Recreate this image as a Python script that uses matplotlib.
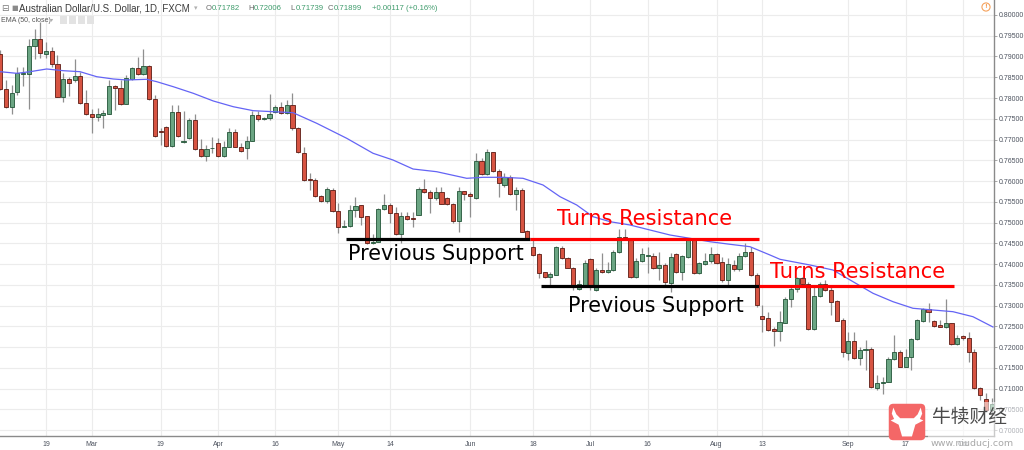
import numpy as np
import pandas as pd
import matplotlib
matplotlib.use('Agg')
import matplotlib.pyplot as plt
from matplotlib.patches import FancyBboxPatch, Polygon, Rectangle

W, H = 1024, 450

# AUD/USD daily bars (FXCM)
dates = pd.bdate_range('2018-02-07', periods=174)

opens = [0.79061, 0.78220, 0.77795, 0.78156, 0.78580, 0.78580, 0.79253, 0.79421, 0.79053, 0.79133,
         0.78821, 0.78036, 0.78460, 0.78436, 0.78532, 0.77883, 0.77619, 0.77539, 0.77579, 0.77619,
         0.78292, 0.78236, 0.77867, 0.78452, 0.78716, 0.78580, 0.78772, 0.77971, 0.77195, 0.77299,
         0.76834, 0.77659, 0.76938, 0.77034, 0.77475, 0.76778, 0.76594, 0.76786, 0.76914, 0.76594,
         0.76818, 0.77171, 0.76818, 0.76794, 0.76970, 0.77595, 0.77494, 0.77510, 0.77671, 0.77775,
         0.77631, 0.77832, 0.77285, 0.76683, 0.76048, 0.76024, 0.75639, 0.75526, 0.75784, 0.75277,
         0.74900, 0.74916, 0.75301, 0.75422, 0.75157, 0.74498, 0.74538, 0.75318, 0.75414, 0.75237,
         0.74723, 0.75157, 0.75101, 0.75189, 0.75800, 0.75735, 0.75599, 0.75735, 0.75599, 0.75438,
         0.75045, 0.75759, 0.75679, 0.75583, 0.76482, 0.76161, 0.76691, 0.76241, 0.75896, 0.76089,
         0.75687, 0.75783, 0.74795, 0.74418, 0.74241, 0.73799, 0.73679, 0.73743, 0.74394, 0.74137,
         0.73912, 0.73398, 0.73478, 0.74113, 0.73374, 0.73864, 0.73815, 0.73856, 0.74297, 0.74659,
         0.74603, 0.73679, 0.74080, 0.74193, 0.74201, 0.73896, 0.73976, 0.73550, 0.74233, 0.73815,
         0.74177, 0.74578, 0.73775, 0.74000, 0.74072, 0.74241, 0.74056, 0.73615, 0.73976, 0.73872,
         0.74201, 0.74281, 0.73735, 0.72747, 0.72691, 0.72433, 0.72385, 0.72586, 0.73148, 0.73389,
         0.73654, 0.73510, 0.72433, 0.73237, 0.73510, 0.73373, 0.73108, 0.72650, 0.71847, 0.72144,
         0.71727, 0.71919, 0.71952, 0.71004, 0.71140, 0.71164, 0.71703, 0.71887, 0.71526, 0.71767,
         0.72184, 0.72634, 0.72915, 0.72626, 0.72522, 0.72490, 0.72570, 0.72064, 0.72265, 0.72209,
         0.71887, 0.71004, 0.70739, 0.70482]

highs = [0.79157, 0.78436, 0.78316, 0.78756, 0.78756, 0.79421, 0.79662, 0.79838, 0.79357, 0.79237,
         0.79037, 0.78596, 0.78516, 0.78933, 0.78636, 0.78196, 0.77739, 0.77755, 0.77715, 0.78436,
         0.78316, 0.78436, 0.78556, 0.78756, 0.78997, 0.79173, 0.78796, 0.78076, 0.77274, 0.77315,
         0.77835, 0.77835, 0.77675, 0.77515, 0.77611, 0.77018, 0.76874, 0.77050, 0.77034, 0.76954,
         0.77274, 0.77258, 0.76914, 0.77074, 0.77675, 0.77675, 0.77550, 0.78097, 0.77832, 0.77912,
         0.77952, 0.78129, 0.77310, 0.76828, 0.76201, 0.76065, 0.75663, 0.75848, 0.75824, 0.75462,
         0.75061, 0.75422, 0.75607, 0.75430, 0.75165, 0.74723, 0.75342, 0.75679, 0.75462, 0.75366,
         0.75261, 0.75261, 0.75261, 0.75864, 0.76040, 0.75784, 0.75864, 0.75864, 0.75623, 0.75462,
         0.75864, 0.75767, 0.75743, 0.76667, 0.76547, 0.76763, 0.76707, 0.76281, 0.76185, 0.76145,
         0.75864, 0.75823, 0.74819, 0.74578, 0.74257, 0.73815, 0.73815, 0.74434, 0.74434, 0.74177,
         0.73936, 0.73615, 0.74096, 0.74137, 0.73896, 0.74257, 0.74056, 0.74337, 0.74835, 0.74835,
         0.74619, 0.74137, 0.74378, 0.74418, 0.74257, 0.74297, 0.74016, 0.74257, 0.74257, 0.74217,
         0.74619, 0.74619, 0.74056, 0.74257, 0.74418, 0.74273, 0.74177, 0.74137, 0.74096, 0.74257,
         0.74498, 0.74418, 0.73775, 0.73012, 0.72851, 0.72490, 0.72867, 0.73213, 0.73453, 0.73694,
         0.73694, 0.73574, 0.73494, 0.73574, 0.73614, 0.73453, 0.73132, 0.72691, 0.72369, 0.72369,
         0.72008, 0.72168, 0.72008, 0.71325, 0.71285, 0.71767, 0.72289, 0.71927, 0.71944, 0.72209,
         0.72666, 0.72931, 0.73052, 0.72650, 0.72650, 0.73156, 0.72586, 0.72289, 0.72289, 0.72369,
         0.71952, 0.71044, 0.70900, 0.70780]

lows = [0.78196, 0.77771, 0.77611, 0.78076, 0.78292, 0.77739, 0.78933, 0.78957, 0.78957, 0.78756,
        0.78020, 0.77915, 0.78060, 0.78396, 0.77851, 0.77595, 0.77155, 0.77435, 0.77274, 0.77611,
        0.77715, 0.77835, 0.77851, 0.78436, 0.78556, 0.78556, 0.77955, 0.77060, 0.76874, 0.76826,
        0.76826, 0.77050, 0.76914, 0.77018, 0.76754, 0.76570, 0.76474, 0.76674, 0.76580, 0.76570,
        0.76810, 0.76810, 0.76698, 0.76538, 0.76954, 0.77435, 0.77470, 0.77470, 0.77631, 0.77615,
        0.77615, 0.77229, 0.76667, 0.76008, 0.75784, 0.75623, 0.75502, 0.75462, 0.75261, 0.74739,
        0.74884, 0.74900, 0.75141, 0.74940, 0.74482, 0.74482, 0.74530, 0.75301, 0.74980, 0.74699,
        0.74498, 0.75061, 0.74884, 0.75173, 0.75719, 0.75237, 0.75543, 0.75446, 0.75422, 0.74997,
        0.74779, 0.75543, 0.75141, 0.75575, 0.76145, 0.76145, 0.76225, 0.75623, 0.75864, 0.75663,
        0.75301, 0.74763, 0.74578, 0.74200, 0.73655, 0.73655, 0.73470, 0.73735, 0.74121, 0.73896,
        0.73374, 0.73374, 0.73454, 0.73374, 0.73360, 0.73791, 0.73775, 0.73840, 0.74257, 0.74578,
        0.73655, 0.73655, 0.74056, 0.73775, 0.73872, 0.73615, 0.73454, 0.73333, 0.73791, 0.73615,
        0.74137, 0.73759, 0.73759, 0.73976, 0.74032, 0.74000, 0.73574, 0.73494, 0.73840, 0.73840,
        0.74177, 0.73711, 0.72972, 0.72369, 0.72393, 0.72024, 0.72144, 0.72570, 0.72972, 0.73333,
        0.73453, 0.72409, 0.72409, 0.73213, 0.73357, 0.72771, 0.72626, 0.71767, 0.71686, 0.71711,
        0.71566, 0.71446, 0.71020, 0.70964, 0.70867, 0.71148, 0.71686, 0.71510, 0.71510, 0.71446,
        0.72168, 0.72610, 0.72610, 0.72490, 0.72474, 0.72449, 0.72048, 0.72048, 0.72168, 0.71646,
        0.70980, 0.70723, 0.70450, 0.70400]

closes = [0.78220, 0.77795, 0.78132, 0.78596, 0.78596, 0.79253, 0.79421, 0.79077, 0.79133, 0.78821,
          0.78036, 0.78460, 0.78372, 0.78532, 0.77875, 0.77611, 0.77539, 0.77619, 0.77643, 0.78292,
          0.78236, 0.77867, 0.78476, 0.78716, 0.78580, 0.78772, 0.77971, 0.77074, 0.77171, 0.76834,
          0.77659, 0.77074, 0.76970, 0.77475, 0.76778, 0.76594, 0.76778, 0.76802, 0.76594, 0.76818,
          0.77171, 0.76818, 0.76714, 0.76970, 0.77595, 0.77499, 0.77510, 0.77607, 0.77775, 0.77631,
          0.77832, 0.77269, 0.76691, 0.76024, 0.76016, 0.75639, 0.75526, 0.75808, 0.75277, 0.74900,
          0.74924, 0.75301, 0.75398, 0.75141, 0.74498, 0.74538, 0.75318, 0.75414, 0.75237, 0.74723,
          0.75157, 0.75093, 0.75077, 0.75800, 0.75735, 0.75599, 0.75735, 0.75454, 0.75438, 0.75045,
          0.75759, 0.75679, 0.75639, 0.76482, 0.76161, 0.76691, 0.76241, 0.75944, 0.76089, 0.75679,
          0.75784, 0.74779, 0.74619, 0.74217, 0.73791, 0.73679, 0.73759, 0.74402, 0.74137, 0.73912,
          0.73454, 0.73510, 0.74016, 0.73478, 0.73856, 0.73815, 0.73864, 0.74281, 0.74659, 0.74603,
          0.73679, 0.74080, 0.74233, 0.74217, 0.73896, 0.73976, 0.73558, 0.74177, 0.73815, 0.74193,
          0.74578, 0.73775, 0.74016, 0.74072, 0.74241, 0.74032, 0.73615, 0.73992, 0.73872, 0.74201,
          0.74281, 0.73735, 0.73012, 0.72683, 0.72409, 0.72385, 0.72610, 0.73148, 0.73389, 0.73654,
          0.73510, 0.72433, 0.73237, 0.73510, 0.73373, 0.73092, 0.72634, 0.71887, 0.72144, 0.71727,
          0.71927, 0.71960, 0.71028, 0.71140, 0.71164, 0.71711, 0.71887, 0.71526, 0.71767, 0.72192,
          0.72650, 0.72915, 0.72851, 0.72514, 0.72490, 0.72570, 0.72064, 0.72225, 0.72209, 0.71887,
          0.71004, 0.70843, 0.70482, 0.70620]

# EMA(50) line, read at points along the curve (position in bars, price)
ema_pos = [0, 2.89, 5.21, 8.12, 11.02, 13.93, 16.85, 19.74, 22.08, 25.57, 27.32, 30.21, 33.70,
           37.19, 40.68, 44.17, 51.10, 55.24, 60.47, 65.06, 68.55, 72.04, 76.17, 81.41, 84.25,
           87.74, 91.23, 94.72, 97.69, 100.60, 103.45, 106.41, 109.90, 113.39, 116.88, 120.37,
           123.86, 127.35, 130.84, 134.33, 136.08, 141.31, 145.33, 148.82, 152.31, 155.79,
           159.28, 162.77, 166.26, 169.75, 173.24]
ema_val = [0.78634, 0.78595, 0.78634, 0.78699, 0.78658, 0.78634, 0.78513, 0.78458, 0.78434,
           0.78451, 0.78393, 0.78272, 0.78113, 0.77928, 0.77790, 0.77694, 0.77646, 0.77390,
           0.77029, 0.76668, 0.76506, 0.76289, 0.76224, 0.76065, 0.76089, 0.76089, 0.76065,
           0.75904, 0.75622, 0.75422, 0.75140, 0.75020, 0.74940, 0.74819, 0.74699, 0.74619,
           0.74537, 0.74475, 0.74417, 0.74217, 0.74113, 0.73976, 0.73855, 0.73574, 0.73294,
           0.73092, 0.72933, 0.72892, 0.72851, 0.72730, 0.72482]

tick_dates = ['2018-02-19', '2018-03-01', '2018-03-19', '2018-04-02', '2018-04-16', '2018-05-01',
              '2018-05-14', '2018-06-01', '2018-06-18', '2018-07-02', '2018-07-16', '2018-08-01',
              '2018-08-13', '2018-09-03', '2018-09-17', '2018-10-01']
tick_labels = ['19', 'Mar', '19', 'Apr', '16', 'May', '14', 'Jun', '18', 'Jul', '16', 'Aug',
               '13', 'Sep', '17', 'Oct']
price_ticks = np.round(np.arange(0.700, 0.8001, 0.005), 3)

# levels drawn on the chart: (price, from, to)
support_lines = [(0.7461, '2018-05-02', '2018-06-15'), (0.7347, '2018-06-19', '2018-08-10')]
resist_lines = [(0.7461, '2018-06-15', '2018-08-10'), (0.7347, '2018-08-10', '2018-09-27')]

header_title = 'Australian Dollar/U.S. Dollar, 1D, FXCM'
header_ohlc = [('O', '0.71782'), ('H', '0.72006'), ('L', '0.71739'), ('C', '0.71899')]
header_change = '+0.00117 (+0.16%)'

plt.rcParams['font.family'] = ['DejaVu Sans']
small_font = ['Liberation Sans', 'DejaVu Sans']

pos = {d.strftime('%Y-%m-%d'): i for i, d in enumerate(dates)}
x = np.arange(len(dates))
o, h, l, c = (np.array(v) for v in (opens, highs, lows, closes))
up = c >= o

fig = plt.figure(figsize=(W / 100, H / 100), dpi=100)
ax = fig.add_axes([0, 14 / H, 994 / W, 436 / H])

# wicks and bodies
ax.vlines(x, l, h, color='#8f8f8f', lw=0.9, zorder=2)
body_lo = np.minimum(o, c)
body_h = np.maximum(np.abs(c - o), 0.00005)
ax.bar(x[up], body_h[up], bottom=body_lo[up], width=0.72, color='#6ba583',
       edgecolor='#225437', lw=0.6, zorder=3)
ax.bar(x[~up], body_h[~up], bottom=body_lo[~up], width=0.72, color='#d75442',
       edgecolor='#5b1a13', lw=0.6, zorder=3)

ax.plot(ema_pos, ema_val, color='#6464f5', lw=0.9, zorder=4)

for lev, a, b in support_lines:
    ax.hlines(lev, pos[a] + 0.4, pos[b] + 0.4, color='black', lw=2.3, zorder=5)
for lev, a, b in resist_lines:
    ax.hlines(lev, pos[a] + 0.4, pos[b] + 0.4, color='#ff0000', lw=2.3, zorder=5)

ax.text(60.7, 0.74241, 'Previous Support', fontsize=14.9, color='black', va='center', zorder=6)
ax.text(99.1, 0.72988, 'Previous Support', fontsize=14.9, color='black', va='center', zorder=6)
ax.text(97.2, 0.75084, 'Turns Resistance', fontsize=15.1, color='#ff0000', va='center', zorder=6)
ax.text(134.3, 0.73807, 'Turns Resistance', fontsize=15.1, color='#ff0000', va='center', zorder=6)

ax.set_xlim(-0.03, 173.42)
ax.set_ylim(0.698556, 0.803614)
ax.set_xticks([pos[d] for d in tick_dates])
ax.set_xticklabels(tick_labels, family=small_font)
ax.set_yticks(price_ticks)
ax.set_yticklabels([f'{v:.5f}' for v in price_ticks], family=small_font)
ax.yaxis.tick_right()
ax.tick_params(axis='y', length=2, width=0.6, color='#9a9a9a', labelsize=5.0,
               labelcolor='#4c525e', pad=1.2)
ax.tick_params(axis='x', length=0, labelsize=5.0, labelcolor='#4c525e', pad=3.5)
ax.grid(True, color='#ececec', lw=0.8, zorder=0)
ax.set_axisbelow(True)
for s in ['top', 'left']:
    ax.spines[s].set_visible(False)
for s in ['bottom', 'right']:
    ax.spines[s].set_color('#8a8a8a')
    ax.spines[s].set_linewidth(1.0)


def fx(px):
    return px / W


def fy(py):
    return 1 - py / H


# header
fig.text(fx(1), fy(8.3), '\u229f', color='#7a7a7a', fontsize=6.5, va='center')
fig.text(fx(11), fy(8.3), '\u25a0', color='#8a8a8a', fontsize=5.0, va='center')
fig.text(fx(19), fy(8.3), header_title, color='#3c3c3c', fontsize=7.0, va='center',
         family=small_font)
fig.text(fx(194), fy(8.0), '\u25be', color='#b0b0b0', fontsize=5, va='center')
for (k, v), xp in zip(header_ohlc, [206, 248, 290, 328]):
    fig.text(fx(xp), fy(8.3), k, color='#6a6a6a', fontsize=5.6, va='center', family=small_font)
    fig.text(fx(xp + 6), fy(8.3), v, color='#3f9c6c', fontsize=5.6, va='center', family=small_font)
fig.text(fx(372), fy(8.3), header_change, color='#3f9c6c', fontsize=5.6, va='center',
         family=small_font)

fig.text(fx(1), fy(20), 'EMA (50, close)', color='#555555', fontsize=5.0, va='center',
         family=small_font)
fig.text(fx(50), fy(20), '\u25be', color='#b0b0b0', fontsize=4.5, va='center')
for xp in [60, 69, 78, 87]:
    fig.patches.append(Rectangle((fx(xp), fy(24)), 7 / W, 8 / H, transform=fig.transFigure,
                                 facecolor='#e3e3e3', edgecolor='none', zorder=7))

# alert icon
fig.text(fx(986), fy(7), '!', color='#f5a25d', fontsize=4.5, ha='center', va='center',
         fontweight='bold',
         bbox=dict(boxstyle='circle,pad=0.25', facecolor='white', edgecolor='#f5a25d', lw=0.8))

# watermark
fig.patches.append(Rectangle((fx(928), 0), 96 / W, 48 / H, transform=fig.transFigure,
                             facecolor='white', alpha=0.55, edgecolor='none', zorder=8))
lax = fig.add_axes([fx(888), fy(441), 38 / W, 38 / H])
lax.set_xlim(0, 1)
lax.set_ylim(1, 0)
lax.axis('off')
lax.add_patch(FancyBboxPatch((0.02, 0.02), 0.96, 0.96, boxstyle='round,pad=0,rounding_size=0.12',
                             facecolor='#f46767', edgecolor='none'))
bull = [(0.14, 0.12), (0.22, 0.30), (0.32, 0.40), (0.68, 0.40), (0.78, 0.30), (0.86, 0.12),
        (0.90, 0.28), (0.84, 0.42), (0.93, 0.46), (0.72, 0.57), (0.63, 0.88), (0.37, 0.88),
        (0.28, 0.57), (0.07, 0.46), (0.16, 0.42), (0.10, 0.28)]
lax.add_patch(Polygon(bull, closed=True, facecolor='white', edgecolor='none'))

fig.text(fx(932), fy(417), '牛犊财经', fontsize=13.5, color='#4a4a4a', va='center',
         family=['Noto Sans CJK SC', 'DejaVu Sans'], zorder=9)
fig.text(fx(931), fy(443), 'www.niuducj.com', fontsize=6.8, color='#a8a8a8', va='center', zorder=9)

fig.savefig('out.png', dpi=100, facecolor='white')
